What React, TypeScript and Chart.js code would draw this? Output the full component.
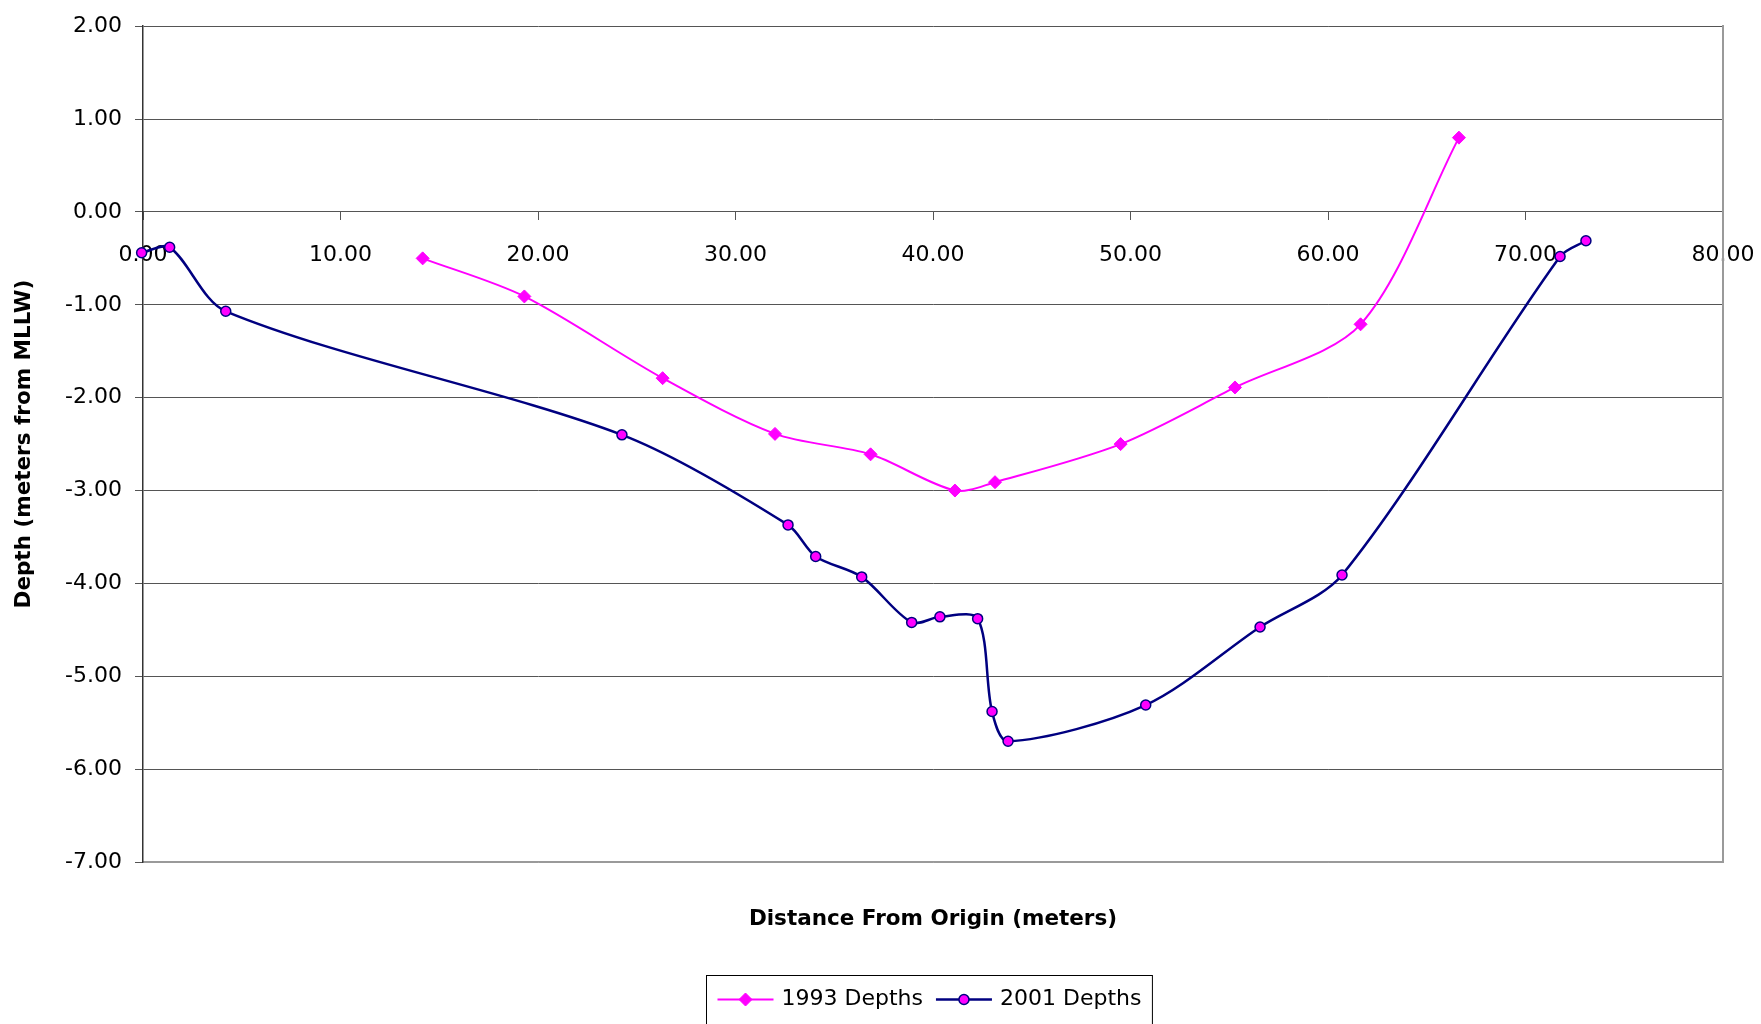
import React, { useEffect, useRef } from "react";
import { Chart, registerables } from "chart.js";

Chart.register(...registerables);

// ---- data ----
const seriesLabels = ["1993 Depths", "2001 Depths"];

const distance1993 = [14.16, 19.31, 26.31, 32.0, 36.84, 41.11, 43.14, 49.5, 55.29, 61.65, 66.63];
const depth1993 = [-0.5, -0.91, -1.79, -2.39, -2.61, -3.0, -2.91, -2.5, -1.89, -1.21, 0.8];

const distance2001 = [-0.07, 1.35, 4.19, 24.25, 32.66, 34.06, 36.39, 38.92, 40.35, 42.26, 42.99, 43.8, 50.77, 56.56, 60.71, 71.75, 73.06];
const depth2001 = [-0.44, -0.38, -1.07, -2.4, -3.37, -3.71, -3.93, -4.42, -4.36, -4.38, -5.38, -5.7, -5.31, -4.47, -3.91, -0.48, -0.31];

const xTickMin = 0;
const xTickMax = 80;
const xTickStep = 10;
const yTickMin = -7;
const yTickMax = 2;
const yTickStep = 1;

const xTitle = "Distance From Origin (meters)";
const yTitle = "Depth (meters from MLLW)";

// ---- styles ----
const FONT = "'DejaVu Sans', Verdana, sans-serif";
const MAGENTA = "#FF00FF";
const NAVY = "#000080";
const GRID = "#555555";
const FRAME = "#9a9a9a";

const legendPlugin = {
  id: "boxLegend",
  afterDraw(chart: any) {
    const ctx: CanvasRenderingContext2D = chart.ctx;
    const area = chart.chartArea;
    const ds = chart.data.datasets;
    ctx.save();
    ctx.font = `22px ${FONT}`;
    const lineLen = 56;
    const gapText = 8;
    const gapItem = 13;
    const padX = 11;
    const widths = ds.map((d: any) => ctx.measureText(d.label).width);
    const content = widths.reduce((a: number, w: number) => a + lineLen + gapText + w, 0) + gapItem * (ds.length - 1);
    const boxW = content + padX * 2;
    const cx = (area.left + area.right) / 2 - 4;
    const boxLeft = Math.round(cx - boxW / 2) + 0.5;
    const boxTop = chart.height - 48.5;
    ctx.strokeStyle = "#000";
    ctx.lineWidth = 1;
    ctx.strokeRect(boxLeft, boxTop, boxW, 80);
    const cy = boxTop + 24;
    let x = boxLeft + padX;
    ds.forEach((d: any, i: number) => {
      ctx.strokeStyle = d.borderColor;
      ctx.lineWidth = d.borderWidth;
      ctx.beginPath();
      ctx.moveTo(x, cy);
      ctx.lineTo(x + lineLen, cy);
      ctx.stroke();
      const mx = x + lineLen / 2;
      ctx.beginPath();
      if (d.pointStyle === "rectRot") {
        const r = d.pointRadius;
        ctx.moveTo(mx - r, cy);
        ctx.lineTo(mx, cy - r);
        ctx.lineTo(mx + r, cy);
        ctx.lineTo(mx, cy + r);
        ctx.closePath();
      } else {
        ctx.arc(mx, cy, d.pointRadius, 0, Math.PI * 2);
      }
      ctx.fillStyle = d.pointBackgroundColor;
      ctx.fill();
      ctx.strokeStyle = d.pointBorderColor;
      ctx.lineWidth = d.pointBorderWidth;
      ctx.stroke();
      ctx.fillStyle = "#000";
      ctx.textBaseline = "middle";
      ctx.textAlign = "left";
      ctx.fillText(d.label, x + lineLen + gapText, cy);
      x += lineLen + gapText + widths[i] + gapItem;
    });
    ctx.restore();
  },
};

export default function App() {
  const canvasRef = useRef<HTMLCanvasElement | null>(null);

  useEffect(() => {
    document.body.style.margin = "0";
    const canvas = canvasRef.current;
    if (!canvas) return;
    const data1993 = distance1993.map((x, i) => ({ x, y: depth1993[i] }));
    const data2001 = distance2001.map((x, i) => ({ x, y: depth2001[i] }));

    const chart = new Chart(canvas, {
      type: "line",
      data: {
        datasets: [
          {
            label: seriesLabels[0],
            data: data1993,
            borderColor: MAGENTA,
            backgroundColor: MAGENTA,
            borderWidth: 2,
            pointStyle: "rectRot",
            pointRadius: 6.5,
            pointBackgroundColor: MAGENTA,
            pointBorderColor: MAGENTA,
            pointBorderWidth: 1,
            tension: 0.3,
            clip: false,
          } as any,
          {
            label: seriesLabels[1],
            data: data2001,
            borderColor: NAVY,
            backgroundColor: MAGENTA,
            borderWidth: 2.5,
            pointStyle: "circle",
            pointRadius: 5,
            pointBackgroundColor: MAGENTA,
            pointBorderColor: NAVY,
            pointBorderWidth: 1.5,
            tension: 0.3,
            clip: false,
          } as any,
        ],
      },
      options: {
        responsive: false,
        animation: false,
        events: [],
        layout: { padding: { top: 24.5, left: 0, right: 0, bottom: 0 } },
        plugins: {
          legend: { display: false },
          tooltip: { enabled: false },
        },
        scales: {
          x: {
            type: "linear",
            position: { y: 0 } as any,
            min: xTickMin,
            max: xTickMax,
            ticks: {
              stepSize: xTickStep,
              autoSkip: false,
              maxRotation: 0,
              padding: 22,
              color: "#000",
              font: { family: FONT, size: 22 },
              callback: (v: any) => Number(v).toFixed(2),
            },
            grid: {
              display: true,
              drawOnChartArea: false,
              drawTicks: true,
              tickLength: 8,
              color: GRID,
              lineWidth: 1,
            },
            border: { display: true, color: GRID, width: 1 },
            afterFit: (scale: any) => {
              scale.paddingLeft = 0;
              scale.paddingRight = 0;
            },
          },
          x2: {
            type: "linear",
            position: "bottom",
            min: xTickMin,
            max: xTickMax,
            ticks: { display: false },
            grid: { display: false, drawTicks: false },
            border: { display: true, color: FRAME, width: 1.5 },
            title: {
              display: true,
              text: xTitle,
              color: "#000",
              font: { family: FONT, size: 21.5, weight: "bold" },
              padding: { top: 0, bottom: 92 },
            },
            afterFit: (scale: any) => {
              scale.height = 162;
              scale.paddingLeft = 0;
              scale.paddingRight = 0;
            },
          },
          y: {
            type: "linear",
            position: "left",
            min: yTickMin,
            max: yTickMax,
            ticks: {
              stepSize: yTickStep,
              padding: 13,
              color: "#000",
              font: { family: FONT, size: 22 },
              callback: (v: any) => Number(v).toFixed(2),
            },
            grid: {
              display: true,
              drawTicks: true,
              tickLength: 8,
              color: (c: any) => (c.tick && c.tick.value === yTickMin ? FRAME : GRID),
              tickColor: GRID,
              lineWidth: 1,
            },
            border: { display: true, color: "#333333", width: 1.5 },
            title: {
              display: true,
              text: yTitle,
              color: "#000",
              font: { family: FONT, size: 21.5, weight: "bold" },
              padding: { top: 12, bottom: 0 },
            },
            afterFit: (scale: any) => {
              scale.width = 143;
            },
          },
          y2: {
            type: "linear",
            position: "right",
            min: yTickMin,
            max: yTickMax,
            ticks: { display: false },
            grid: { display: false, drawTicks: false },
            border: { display: true, color: FRAME, width: 2 },
            afterFit: (scale: any) => {
              scale.width = 38;
            },
          },
        },
      } as any,
      plugins: [legendPlugin],
    });

    return () => {
      chart.destroy();
    };
  }, []);

  return (
    <div style={{ position: "fixed", left: 0, top: 0, width: 1761, height: 1024, background: "#fff" }}>
      <canvas ref={canvasRef} width={1761} height={1024} style={{ display: "block" }} />
    </div>
  );
}
